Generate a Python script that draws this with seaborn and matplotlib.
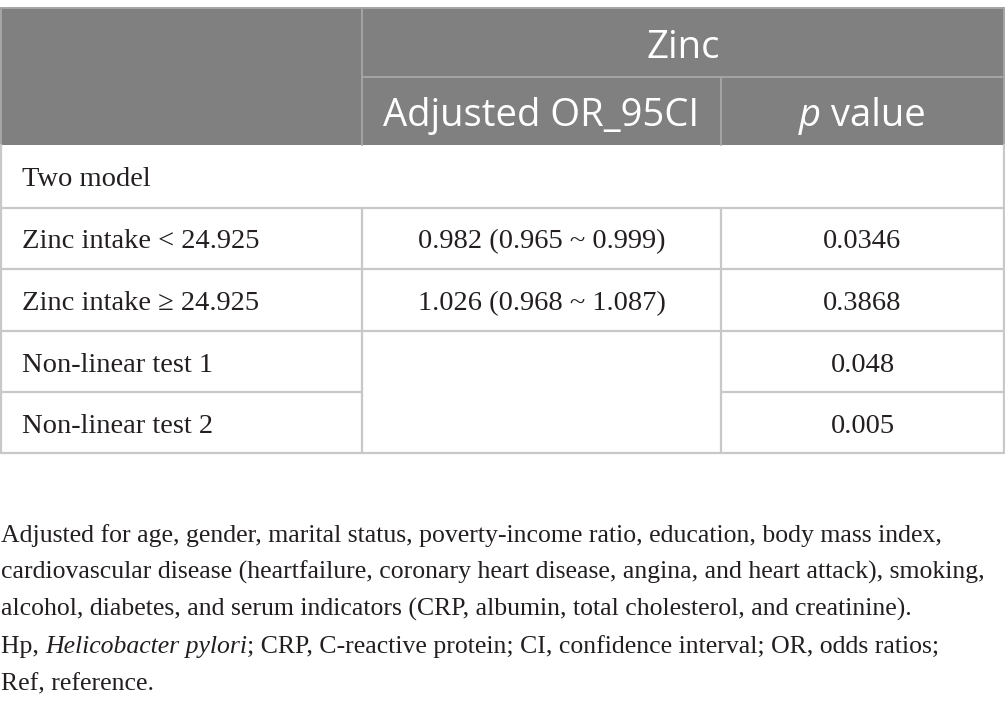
import numpy as np
import pandas as pd
import seaborn as sns
import matplotlib.pyplot as plt

# table content
group_title = "Zinc"
col_titles = ["Adjusted OR_95CI", "p value"]
row_labels = ["Two model", "Zinc intake < 24.925", "Zinc intake ≥ 24.925",
              "Non-linear test 1", "Non-linear test 2"]
or_ci = ["", "0.982 (0.965 ~ 0.999)", "1.026 (0.968 ~ 1.087)", "", ""]
p_values = ["", "0.0346", "0.3868", "0.048", "0.005"]

notes = [
    [("Adjusted for age, gender, marital status, poverty-income ratio, education, body mass index,", "normal")],
    [("cardiovascular disease (heartfailure, coronary heart disease, angina, and heart attack), smoking,", "normal")],
    [("alcohol, diabetes, and serum indicators (CRP, albumin, total cholesterol, and creatinine).", "normal")],
    [("Hp, ", "normal"), ("Helicobacter pylori", "italic"),
     ("; CRP, C-reactive protein; CI, confidence interval; OR, odds ratios;", "normal")],
    [("Ref, reference.", "normal")],
]

table = pd.DataFrame({"label": row_labels, "or_ci": or_ci, "p": p_values})

sns.set_theme(style="white")
plt.rcParams["font.family"] = ["Liberation Serif", "DejaVu Serif"]

W, H = 1005, 709
fig = plt.figure(figsize=(W / 100, H / 100), dpi=100)
ax = fig.add_axes([0, 0, 1, 1])
ax.set_xlim(0, W)
ax.set_ylim(H, 0)
ax.axis("off")

xs = [0.5, 362, 721, 1004]
ys = [8, 77, 145, 208, 269, 331, 392, 453]
head_bg = "#7f807f"
head_line = "#a3a4a3"
body_line = "#c8c8c8"
ink = "#231f20"
sans = "Open Sans"
serif = "Liberation Serif"

# header block
ax.add_patch(plt.Rectangle((xs[0], ys[0]), xs[3] - xs[0], ys[2] - ys[0],
                           facecolor=head_bg, edgecolor="none", zorder=1))
ax.plot([xs[0], xs[3]], [ys[0], ys[0]], color=head_line, lw=1.4, zorder=2)
ax.plot([xs[1], xs[1]], [ys[0], ys[2]], color=head_line, lw=1.4, zorder=2)
ax.plot([xs[1], xs[3]], [ys[1], ys[1]], color=head_line, lw=1.4, zorder=2)
ax.plot([xs[2], xs[2]], [ys[1], ys[2]], color=head_line, lw=1.4, zorder=2)
ax.plot([xs[0], xs[0]], [ys[0], ys[2]], color=head_line, lw=1.4, zorder=2)
ax.plot([xs[3], xs[3]], [ys[0], ys[2]], color=head_line, lw=1.4, zorder=2)

# body grid
ax.plot([xs[0], xs[0]], [ys[2], ys[7]], color=body_line, lw=1.6)
ax.plot([xs[3], xs[3]], [ys[2], ys[7]], color=body_line, lw=1.6)
for y in [ys[3], ys[4], ys[5], ys[7]]:
    ax.plot([xs[0], xs[3]], [y, y], color=body_line, lw=1.6)
ax.plot([xs[0], xs[1]], [ys[6], ys[6]], color=body_line, lw=1.6)
ax.plot([xs[2], xs[3]], [ys[6], ys[6]], color=body_line, lw=1.6)
for x in [xs[1], xs[2]]:
    ax.plot([x, x], [ys[3], ys[7]], color=body_line, lw=1.6)

renderer = fig.canvas.get_renderer()


def runs(x, y, parts, family, size, color, align="left"):
    objs = []
    for txt, style in parts:
        t = ax.text(0, y, txt, family=family, fontsize=size, style=style,
                    color=color, va="baseline", ha="left", zorder=3)
        objs.append(t)
    widths = [t.get_window_extent(renderer).width for t in objs]
    total = sum(widths)
    start = x - total / 2 if align == "center" else x
    for t, w in zip(objs, widths):
        t.set_x(start)
        start += w


# header text
runs((xs[1] + xs[3]) / 2, 58, [(group_title, "normal")], sans, 27.5, "white", "center")
runs((xs[1] + xs[2]) / 2, 126, [(col_titles[0], "normal")], sans, 27.5, "white", "center")
runs((xs[2] + xs[3]) / 2, 126, [(col_titles[1][0], "italic"), (col_titles[1][1:], "normal")],
     sans, 27.5, "white", "center")

# body text
base = [186, 248, 310, 372, 433]
for i, row in table.iterrows():
    runs(22, base[i], [(row["label"], "normal")], serif, 20.5, ink)
    if row["or_ci"]:
        runs((xs[1] + xs[2]) / 2, base[i], [(row["or_ci"], "normal")], serif, 20.5, ink, "center")
    if row["p"]:
        runs((xs[2] + xs[3]) / 2, base[i], [(row["p"], "normal")], serif, 20.5, ink, "center")

# footnote
for k, parts in enumerate(notes):
    runs(1, 542 + 37 * k, parts, serif, 18.5, ink)

fig.savefig("out.png", dpi=100)
